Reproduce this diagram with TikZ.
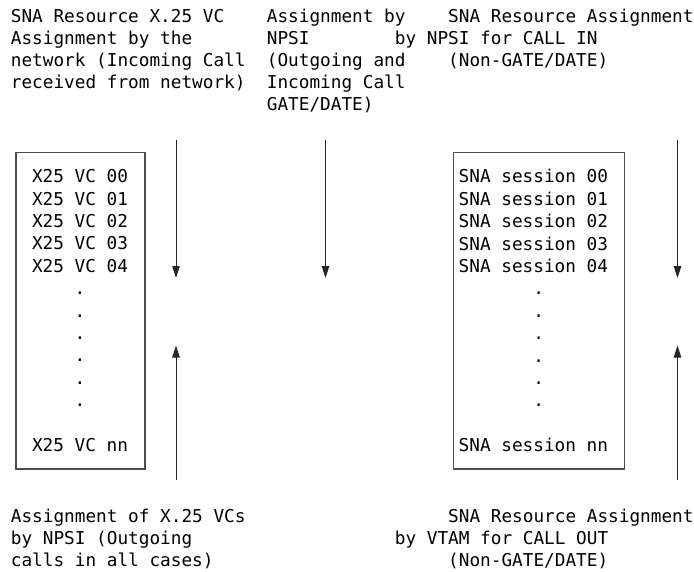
\documentclass[tikz,border=0pt]{standalone}
\usepackage{fontspec}
\setmainfont{DejaVu Sans Mono}
\usepackage{tikz}
\usetikzlibrary{arrows.meta,positioning}
\usepackage{xcolor}
\definecolor{boxgray}{gray}{0.3}
\definecolor{linegray}{gray}{0.15}
\newcommand\headfont{\fontsize{17.72}{22}\selectfont\spaceskip 10.667pt\relax}
\newcommand\listfont{\fontsize{17.72}{22.4}\selectfont\spaceskip 10.667pt\relax}

\tikzset{
  txt/.style={align=left, anchor=base west, inner sep=0pt, font=\headfont},
  listbox/.style={draw=boxgray, line width=1.3pt, align=flush left, inner ysep=0pt,
    minimum height=316.7pt, font=\listfont,
    execute at begin node={\spaceskip 10.667pt\relax}},
  flow/.style={draw=linegray, line width=1pt, -{Triangle[length=12pt,width=7.5pt]}}
}

\begin{document}
\begin{tikzpicture}[x=1pt,y=-1pt]
\useasboundingbox (0,0) rectangle (694,571);
% headings (placed at the baseline of their last line)
\node[txt] (netcall) at (10.67,88.5)%
{SNA Resource X.25 VC\\Assignment by the\\network (Incoming Call\\received from network)};
\node[txt] (gatedate) at (266.67,110.5)%
{Assignment by\\NPSI\\(Outgoing and\\Incoming Call\\GATE/DATE)};
\node[txt] (callin) at (394.67,66.5)%
{\hspace*{53.33pt}SNA Resource Assignment\\by NPSI for CALL IN\\\hspace*{53.33pt}(Non-GATE/DATE)};
% the two lists
\node[listbox, text width=97pt, inner xsep=16pt] (vclist) at (80.5,310.7)%
{X25 VC 00\\X25 VC 01\\X25 VC 02\\X25 VC 03\\X25 VC 04\\%
\hspace*{42.67pt}.\\\hspace*{42.67pt}.\\\hspace*{42.67pt}.\\%
\hspace*{42.67pt}.\\\hspace*{42.67pt}.\\\hspace*{42.67pt}.\\%
\mbox{}\\X25 VC nn};
\node[listbox, text width=160.3pt, inner xsep=5.2pt] (sessions) at (538.85,310.7)%
{SNA session 00\\SNA session 01\\SNA session 02\\SNA session 03\\SNA session 04\\%
\hspace*{74.67pt}.\\\hspace*{74.67pt}.\\\hspace*{74.67pt}.\\%
\hspace*{74.67pt}.\\\hspace*{74.67pt}.\\\hspace*{74.67pt}.\\%
\mbox{}\\SNA session nn};
% arrows
\coordinate (netTop) at (176,140);
\coordinate (netEnd) at (176,278);
\coordinate (outBot) at (176,480);
\coordinate (outEnd) at (176,345.5);
\coordinate (gateTop) at (325.5,140);
\coordinate (gateEnd) at (325.5,278);
\coordinate (callinTop) at (677.5,140);
\coordinate (callinEnd) at (677.5,278);
\coordinate (calloutBot) at (677.5,480);
\coordinate (calloutEnd) at (677.5,345.5);
\draw[flow] (netTop) -- (netEnd);
\draw[flow] (outBot) -- (outEnd);
\draw[flow] (gateTop) -- (gateEnd);
\draw[flow] (callinTop) -- (callinEnd);
\draw[flow] (calloutBot) -- (calloutEnd);
% footings
\node[txt] (outcall) at (10.67,566.8)%
{Assignment of X.25 VCs\\by NPSI (Outgoing\\calls in all cases)};
\node[txt] (callout) at (394.67,566.8)%
{\hspace*{53.33pt}SNA Resource Assignment\\by VTAM for CALL OUT\\\hspace*{53.33pt}(Non-GATE/DATE)};
\end{tikzpicture}
\end{document}
